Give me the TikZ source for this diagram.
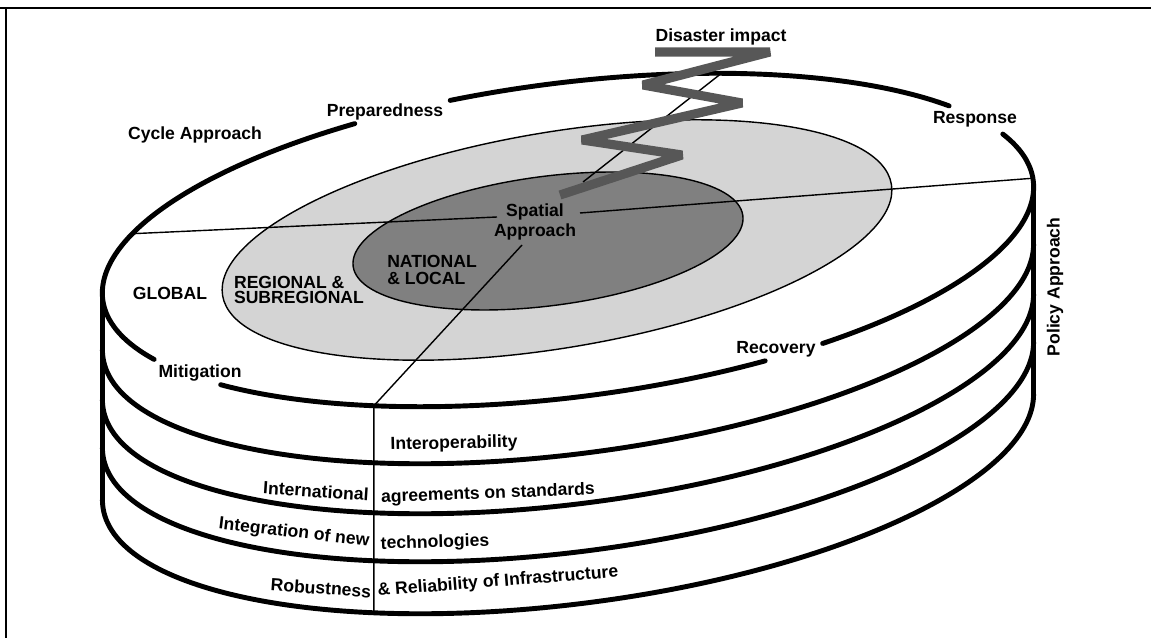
\documentclass[tikz,border=0pt]{standalone}
\usepackage{fontspec}
\setsansfont{Liberation Sans}
\usepackage{tikz}
\definecolor{regiongray}{gray}{0.83}
\definecolor{nationgray}{gray}{0.5}
\definecolor{boltgray}{gray}{0.34}
\tikzset{
  rim/.style={line width=2.8pt,line cap=round},
  ray/.style={line width=0.8pt},
  bolt/.style={line width=5.2pt,boltgray,line join=bevel},
  lbl/.style={font=\sffamily\bfseries,inner sep=1pt},
}

\begin{document}
\begin{tikzpicture}[x=0.02cm,y=0.02cm]
\useasboundingbox (0,0) rectangle (1151,638);
\draw[line width=1.4pt] (0,630) -- (1151,630) (6,630) -- (6,0);
\begin{scope}[shift={(557,398)},rotate=9.45]
  \filldraw[fill=regiongray,ray] (0,0) ellipse[x radius=339,y radius=108];
\end{scope}
\begin{scope}[shift={(548,397)},rotate=7.4]
  \filldraw[fill=nationgray,ray] (0,0) ellipse[x radius=196.5,y radius=64.7];
\end{scope}
\begin{scope}[shift={(568,398)},rotate=7.3]
  \foreach \s/\e in {-59.3/18.5,32.6/102.2,114.8/204.8,219.3/292.6}
    \draw[rim] (\s:469 and 157) arc[start angle=\s,end angle=\e,x radius=469,y radius=157];
  \coordinate (topL) at (177.54:469 and 157);
  \coordinate (topR) at (-2.46:469 and 157);
  \coordinate (front) at (242.9:469 and 157);
  \coordinate (edgeL) at (156.9:469 and 157);
  \coordinate (edgeR) at (0.8:469 and 157);
  \coordinate (edgeU) at (68.3:469 and 157);
\end{scope}
\foreach \d in {57,107,155,207}{
  \begin{scope}[shift={(568,398-\d)},rotate=7.3]
    \draw[rim] (177.54:469 and 157) arc[start angle=177.54,end angle=357.54,x radius=469,y radius=157];
  \end{scope}
}
\begin{scope}[shift={(568,191)},rotate=7.3]
  \coordinate (botL) at (177.54:469 and 157);
  \coordinate (botR) at (-2.46:469 and 157);
  \coordinate (frontB) at (242.9:469 and 157);
\end{scope}
\draw[rim,line cap=butt] (topL) -- (botL) (topR) -- (botR);
\coordinate (hubL) at (497,421);
\coordinate (hubR) at (580,425);
\coordinate (hubU) at (583,456);
\coordinate (hubD) at (522,393);
\draw[ray] (hubL) -- (edgeL) (hubR) -- (edgeR) (hubU) -- (edgeU) (hubD) -- (front) -- (frontB);
\draw[bolt] (655,586) -- (770,586) -- (643,553) -- (742,535) -- (582,498) -- (682,483) -- (560,443);
\node[lbl] (disaster) at (721,601) {Disaster impact};
\node[lbl] (cycle) at (195,503) {Cycle Approach};
\node[lbl] (prep) at (385,526) {Preparedness};
\node[lbl] (resp) at (975,519) {Response};
\node[lbl] (global) at (170,345) {GLOBAL};
\node[lbl,align=left] (regional) at (299,348) {REGIONAL \&\\[-3pt]SUBREGIONAL};
\node[lbl,align=left] (national) at (432,368) {NATIONAL\\[-2pt]\& LOCAL};
\node[lbl,align=center] (spatial) at (535,416) {Spatial\\[-1pt]Approach};
\node[lbl] (mitig) at (200,265) {Mitigation};
\node[lbl] (recov) at (776,289) {Recovery};
\node[lbl,rotate=90] (policy) at (1055,351) {Policy Approach};
\node[lbl,rotate=1.3] (interop) at (454,194) {Interoperability};
\node[lbl,rotate=-3.8] (intl) at (316,147) {International};
\node[lbl,rotate=2.1] (agree) at (488,144) {agreements on standards};
\node[lbl,rotate=-6.8] (integ) at (294,105) {Integration of new};
\node[lbl,rotate=1.6] (techno) at (435,95) {technologies};
\node[lbl,rotate=-4] (robust) at (321,50) {Robustness};
\node[lbl,rotate=4.5] (reliab) at (498,56) {\& Reliability of Infrastructure};
\end{tikzpicture}
\end{document}
